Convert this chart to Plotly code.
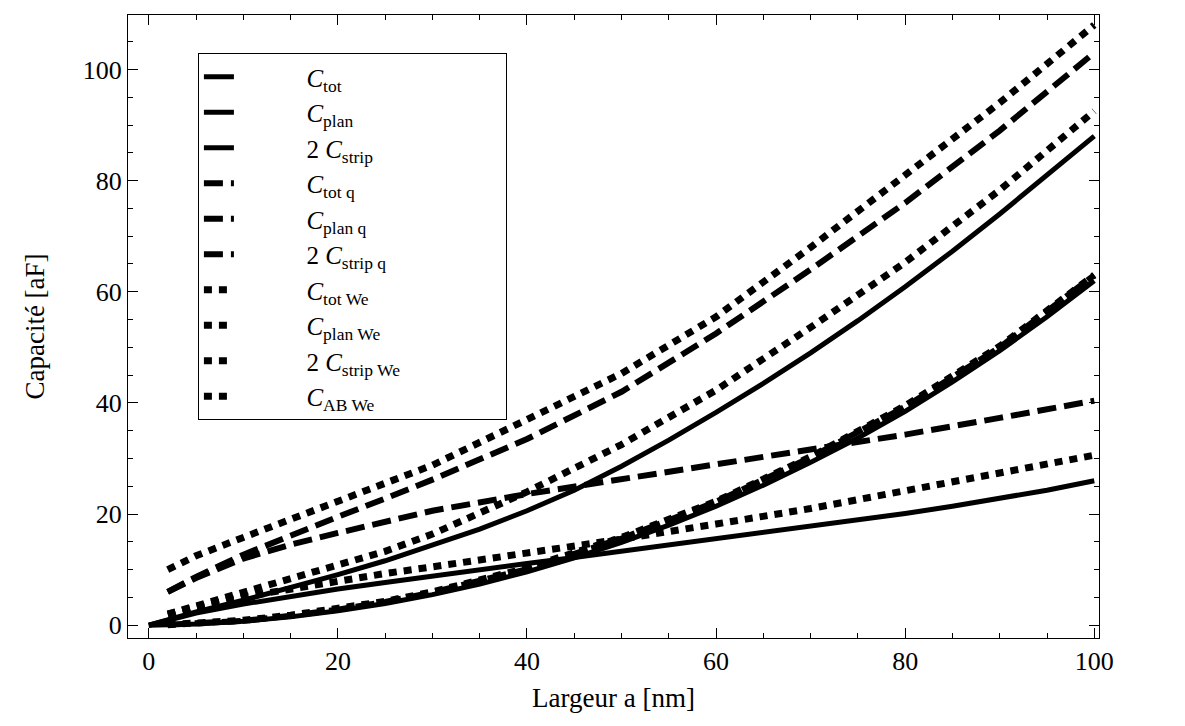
import plotly.graph_objects as go

# ---- data ----
x_full = [0, 5, 10, 15, 20, 25, 30, 35, 40, 45, 50, 55, 60, 65, 70, 75, 80, 85, 90, 95, 100]
c_tot = [0, 2.4, 4.5, 6.7, 9.1, 11.6, 14.4, 17.3, 20.6, 24.3, 28.6, 33.3, 38.3, 43.5, 49.0, 54.8, 60.9, 67.3, 74.0, 81.0, 88.0]
c_plan = [0, 0.2, 0.7, 1.5, 2.6, 3.9, 5.5, 7.4, 9.6, 12.1, 14.9, 18.0, 21.4, 25.2, 29.3, 33.7, 38.5, 43.8, 49.4, 55.5, 62.0]
c_strip2 = [0, 2.2, 3.8, 5.2, 6.5, 7.7, 8.9, 10.0, 11.1, 12.2, 13.3, 14.4, 15.5, 16.6, 17.7, 18.9, 20.1, 21.4, 22.8, 24.3, 26.0]

x_part = [2, 5, 10, 15, 20, 25, 30, 40, 50, 60, 70, 80, 90, 100]
c_tot_q = [6.0, 8.7, 12.7, 16.2, 19.5, 22.8, 26.2, 33.5, 42.0, 52.5, 64.0, 76.0, 89.0, 103.0]
c_plan_q = [0.1, 0.3, 0.8, 1.7, 2.8, 4.2, 5.9, 10.1, 15.6, 22.2, 30.2, 39.3, 50.0, 63.0]
c_strip2_q = [6.0, 8.5, 12.0, 14.5, 16.6, 18.7, 20.6, 23.6, 26.3, 28.9, 31.5, 34.3, 37.3, 40.4]
c_tot_we = [2.0, 3.5, 5.8, 8.2, 10.7, 13.3, 16.4, 24.0, 32.5, 42.3, 53.6, 65.3, 78.3, 92.5]
c_plan_we = [0.1, 0.3, 0.9, 1.8, 2.9, 4.3, 6.0, 10.3, 15.8, 22.3, 30.3, 39.5, 50.2, 63.0]
c_strip2_we = [2.0, 3.3, 5.1, 6.6, 8.0, 9.3, 10.5, 12.9, 15.5, 18.2, 21.0, 24.2, 27.4, 30.6]
c_ab_we = [10.0, 12.5, 15.8, 19.0, 22.2, 25.6, 28.8, 37.0, 45.3, 55.5, 68.0, 81.0, 94.0, 108.0]

PAD = "\u2003\u2003\u2002\u2009"
labels = ["<i>C</i><sub>tot</sub>", "<i>C</i><sub>plan</sub>", "2 <i>C</i><sub>strip</sub>",
          "<i>C</i><sub>tot q</sub>", "<i>C</i><sub>plan q</sub>", "2 <i>C</i><sub>strip q</sub>",
          "<i>C</i><sub>tot We</sub>", "<i>C</i><sub>plan We</sub>", "2 <i>C</i><sub>strip We</sub>",
          "<i>C</i><sub>AB We</sub>"]

series = [
    (x_full, c_tot, "solid", 5),
    (x_full, c_plan, "solid", 5),
    (x_full, c_strip2, "solid", 5),
    (x_part, c_tot_q, "19px,8px", 6),
    (x_part, c_plan_q, "19px,8px", 6),
    (x_part, c_strip2_q, "19px,8px", 6),
    (x_part, c_tot_we, "8px,7px", 7),
    (x_part, c_plan_we, "8px,7px", 7),
    (x_part, c_strip2_we, "8px,7px", 7),
    (x_part, c_ab_we, "8px,7px", 7),
]

FONT = "Liberation Serif, Times New Roman, serif"

fig = go.Figure()
for i, (label, (xs, ys, dash, w)) in enumerate(zip(labels, series)):
    name = PAD + label
    if i == 8:
        name = name + "\u2003\u2003\u2003\u2003"
    fig.add_trace(go.Scatter(x=xs, y=ys, mode="lines", name=name,
                             line=dict(color="black", width=w, dash=dash)))

axis_common = dict(
    showgrid=False, zeroline=False, showline=True, linecolor="black", linewidth=1,
    mirror="ticks", ticks="inside", ticklen=10, tickwidth=1, tickcolor="black",
    minor=dict(ticks="inside", ticklen=5, tickwidth=1, tickcolor="black", dtick=5),
    tickfont=dict(family=FONT, size=26, color="black"),
)

fig.update_layout(
    width=1185, height=726,
    margin=dict(l=120, r=94, t=7, b=96),
    paper_bgcolor="white", plot_bgcolor="white",
    font=dict(family=FONT, size=26, color="black"),
    xaxis=dict(range=[-2.2, 100.5], tickvals=[0, 20, 40, 60, 80, 100],
               title=dict(text="Largeur a [nm]", font=dict(family=FONT, size=27), standoff=12),
               **axis_common),
    yaxis=dict(range=[-2.3, 109.8], tickvals=[0, 20, 40, 60, 80, 100],
               title=dict(text="Capacité [aF]", font=dict(family=FONT, size=27), standoff=30),
               **axis_common),
    legend=dict(x=0.072, y=0.939, xanchor="left", yanchor="top",
                bordercolor="black", borderwidth=1, bgcolor="white",
                itemwidth=30, font=dict(family=FONT, size=25, color="black"),
                traceorder="normal"),
    showlegend=True,
)

fig.write_html("out.html")
